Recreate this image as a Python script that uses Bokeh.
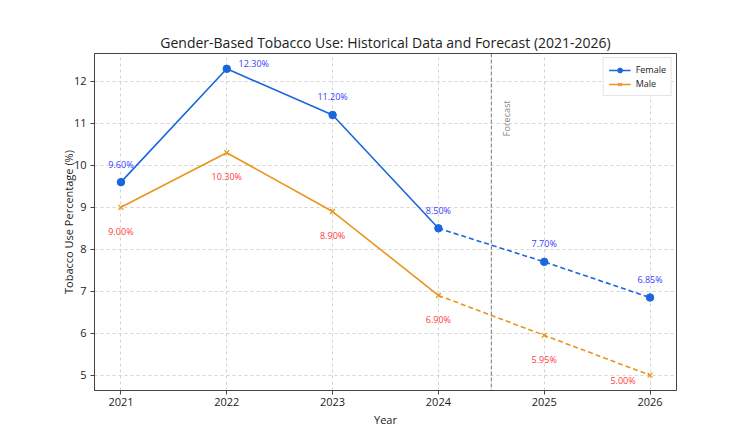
import math
from bokeh.plotting import figure
from bokeh.models import (ColumnDataSource, Span, Label, Legend, LegendItem,
                          FixedTicker, Range1d, Title)
from bokeh.core.properties import value
from bokeh.embed import file_html
from bokeh.resources import INLINE

# ---- data ----
years = [2021, 2022, 2023, 2024, 2025, 2026]
female = [9.60, 12.30, 11.20, 8.50, 7.70, 6.85]
male = [9.00, 10.30, 8.90, 6.90, 5.95, 5.00]
hist_n = 4  # 2021-2024 historical, 2024-2026 forecast
y_ticks = [5, 6, 7, 8, 9, 10, 11, 12]
title_text = "Gender-Based Tobacco Use: Historical Data and Forecast (2021-2026)"

# ---- style ----
FONT = "Open Sans"
F_COL = "#1a66dd"
M_COL = "#e8961c"
F_LAB = "#3b3bff"
M_LAB = "#ff3b3b"
f_dx = [0, 27, 0, 0, 0, 0]
f_dy = [-18, -5, -18, -18, -18, -18]
m_dx = [0, 0, 0, 0, 0, -27]
m_dy = [24, 24, 24, 24, 24, 5]

p = figure(width=750, height=438, output_backend="svg", toolbar_location=None,
           x_range=Range1d(2020.75, 2026.25), y_range=Range1d(4.635, 12.665),
           min_border_left=94, min_border_right=74, min_border_top=53,
           min_border_bottom=48)
p.title = Title(text=title_text, align="center", text_font=FONT,
                text_font_size="14px", text_font_style="normal",
                text_color="#222222", standoff=4)
p.background_fill_color = "white"
p.border_fill_color = "white"
p.outline_line_color = "#444444"
p.outline_line_width = 1

# grid
for g in (p.xgrid, p.ygrid):
    g.grid_line_color = "#c8c8c8"
    g.grid_line_dash = "3 3"
    g.grid_line_alpha = 0.8
p.xaxis.ticker = FixedTicker(ticks=years)
p.yaxis.ticker = FixedTicker(ticks=y_ticks)
for ax in (p.xaxis, p.yaxis):
    ax.axis_line_color = "#444444"
    ax.major_tick_line_color = "#444444"
    ax.major_tick_out = 4
    ax.major_tick_in = 0
    ax.minor_tick_line_color = None
    ax.major_label_text_font = FONT
    ax.major_label_text_font_size = "11px"
    ax.major_label_text_color = "#222222"
    ax.axis_label_text_font = FONT
    ax.axis_label_text_font_size = "11px"
    ax.axis_label_text_font_style = "normal"
    ax.axis_label_text_color = "#222222"
p.xaxis.axis_label = "Year"
p.yaxis.axis_label = "Tobacco Use Percentage (%)"
p.xaxis.major_label_standoff = 3
p.yaxis.major_label_standoff = 4
p.xaxis.axis_label_standoff = 3
p.yaxis.axis_label_standoff = -5

# forecast divider
p.add_layout(Span(location=2024.5, dimension="height", line_color="#666666",
                  line_dash="4 2", line_width=0.9))
p.add_layout(Label(x=2024.64, y=11.12, text="Forecast", angle=math.pi / 2,
                   text_align="center", text_baseline="middle",
                   text_font=FONT, text_font_size="9px", text_color="#888888"))

# lines
fl1 = p.line(years[:hist_n], female[:hist_n], line_color=F_COL, line_width=1.6)
p.line(years[hist_n - 1:], female[hist_n - 1:], line_color=F_COL,
       line_width=1.6, line_dash="5 3")
ml1 = p.line(years[:hist_n], male[:hist_n], line_color=M_COL, line_width=1.6)
p.line(years[hist_n - 1:], male[hist_n - 1:], line_color=M_COL,
       line_width=1.6, line_dash="5 3")
fs = p.scatter(years, female, marker="circle", size=7.5, fill_color=F_COL,
               line_color=F_COL)
ms = p.scatter(years, male, marker="x", size=7, line_color=M_COL,
               line_width=1.2)

# value labels
fsrc = ColumnDataSource(dict(x=years, y=female,
                             t=["%.2f%%" % v for v in female],
                             dx=f_dx, dy=f_dy))
msrc = ColumnDataSource(dict(x=years, y=male,
                             t=["%.2f%%" % v for v in male],
                             dx=m_dx, dy=m_dy))
p.text(x="x", y="y", text="t", x_offset="dx", y_offset="dy", source=fsrc,
       text_align="center", text_baseline="middle", text_font=value(FONT),
       text_font_size="9px", text_color=F_LAB)
p.text(x="x", y="y", text="t", x_offset="dx", y_offset="dy", source=msrc,
       text_align="center", text_baseline="middle", text_font=value(FONT),
       text_font_size="9px", text_color=M_LAB)

legend = Legend(items=[LegendItem(label="Female", renderers=[fl1, fs]),
                       LegendItem(label="Male", renderers=[ml1, ms])],
                location="top_right", margin=4, padding=5, spacing=1,
                label_text_font=FONT, label_text_font_size="9px",
                label_text_color="#222222", glyph_width=22, glyph_height=12,
                label_height=12, border_line_color="#cccccc",
                background_fill_alpha=0.9)
p.add_layout(legend)

open("out.html", "w").write(file_html(p, INLINE))
